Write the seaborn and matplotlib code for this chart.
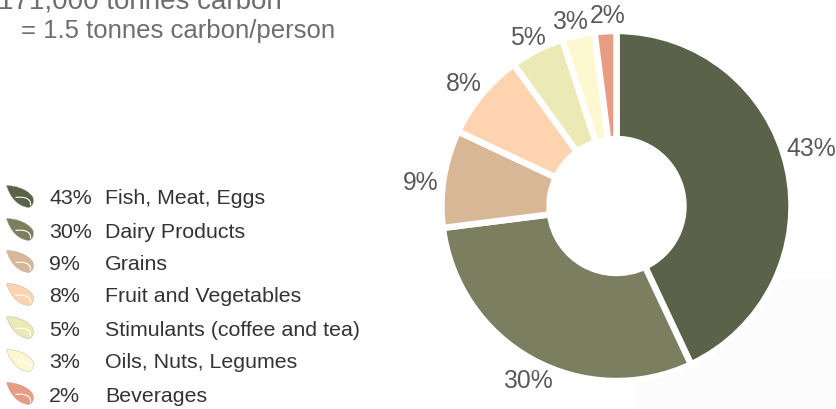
import matplotlib
matplotlib.use("Agg")
import matplotlib.pyplot as plt
from matplotlib.patches import PathPatch, Rectangle
from matplotlib.path import Path
import seaborn as sns

sns.set_theme(style="white")
plt.rcParams["font.family"] = ["Liberation Sans", "DejaVu Sans"]

# Shares of the food carbon footprint, largest first
categories = ["Fish, Meat, Eggs", "Dairy Products", "Grains", "Fruit and Vegetables",
              "Stimulants (coffee and tea)", "Oils, Nuts, Legumes", "Beverages"]
shares = [43, 30, 9, 8, 5, 3, 2]
colors = sns.color_palette(["#5a6349", "#7b7f60", "#d7b795", "#fed4b0",
                            "#ebe9b5", "#fdf8cf", "#e79d83"])
header_lines = ["171,000 tonnes carbon", "= 1.5 tonnes carbon/person"]

W, H = 836, 409
fig = plt.figure(figsize=(W / 100, H / 100), dpi=100, facecolor="white")

# Full-figure layer measured in pixels, for text and legend icons
page = fig.add_axes([0, 0, 1, 1])
page.set_xlim(0, W)
page.set_ylim(H, 0)
page.axis("off")

page.add_patch(Rectangle((634, 278), 202, 131, facecolor="#fcfcfc", edgecolor="none"))

# Donut: white wedge edges form the gaps between segments
cx, cy, r = 616.5, 206, 175
donut = fig.add_axes([(cx - r) / W, 1 - (cy + r) / H, 2 * r / W, 2 * r / H])
donut.pie(shares, colors=colors, startangle=90, counterclock=False, radius=1,
          wedgeprops=dict(width=(r - 67) / r, edgecolor="white", linewidth=4.6))
donut.set_xlim(-1, 1)
donut.set_ylim(-1, 1)
donut.patch.set_alpha(0)

# Percent labels around the ring
label_anchor = [(811, 149), (528, 381), (421, 183), (464, 84), (528, 38), (570, 22), (608, 16)]
for share, (x, y) in zip(shares, label_anchor):
    page.text(x, y, f"{share}%", ha="center", va="center", fontsize=17.8, color="#58595b")

# Header, partly running off the top-left corner
page.text(282, 8, header_lines[0], ha="right", va="baseline", fontsize=20, color="#6d6e71")
page.text(21, 38, header_lines[1], ha="left", va="baseline", fontsize=18.5, color="#6d6e71")


def leaf(ax, x, y, color):
    """Small leaf icon whose tip sits at (x, y)."""
    outline = [(0, 0), (8, 0), (20, 3), (26, 11), (28, 15), (27, 21), (22, 22),
               (12, 21), (4, 13), (0, 0), (0, 0)]
    codes = [Path.MOVETO, Path.CURVE4, Path.CURVE4, Path.CURVE4, Path.CURVE4, Path.CURVE4,
             Path.CURVE4, Path.CURVE4, Path.CURVE4, Path.CURVE4, Path.CLOSEPOLY]
    shape = Path([(x + a, y + b) for a, b in outline], codes)
    ax.add_patch(PathPatch(shape, facecolor=color, edgecolor="#a0a090", linewidth=0.25))
    vein = [(9, 12), (16, 11), (25, 12), (24, 20)]
    ax.add_patch(PathPatch(Path([(x + a, y + b) for a, b in vein],
                                [Path.MOVETO, Path.CURVE4, Path.CURVE4, Path.CURVE4]),
                           facecolor="none", edgecolor="white", linewidth=0.8))


# Legend rows
row_y = [199, 232, 264, 297, 330, 363, 396]
for share, name, color, y in zip(shares, categories, colors, row_y):
    leaf(page, 6.5, y - 13.5, color)
    page.text(49, y, f"{share}%", ha="left", va="center", fontsize=15.4, color="#333333")
    page.text(105, y, name, ha="left", va="center", fontsize=15.4, color="#333333")

fig.savefig("out.png", dpi=100, facecolor="white")
